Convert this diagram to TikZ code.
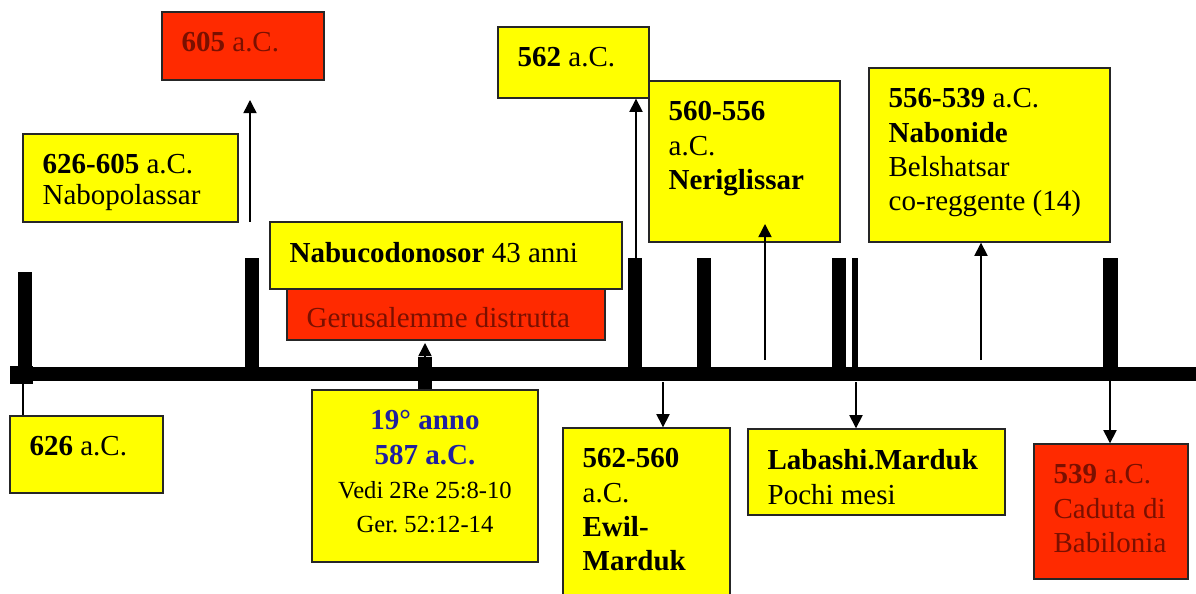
\documentclass[tikz,border=0pt]{standalone}
\usepackage{fontspec}
\setmainfont{Liberation Serif}
\usetikzlibrary{arrows.meta,positioning,fit,calc}
\definecolor{boxyellow}{HTML}{FFFF00}
\definecolor{boxred}{HTML}{FF2A00}
\definecolor{redtxt}{HTML}{7A1000}
\definecolor{annoblue}{HTML}{2020A0}
\frenchspacing
\tikzset{
  ybox/.style={draw=black!85,line width=0.8pt,fill=boxyellow,inner sep=0pt},
  rbox/.style={ybox,fill=boxred},
  basetxt/.style={inner sep=0pt,yshift=-0.42cm,font=\fontsize{16.5}{19.5}\selectfont},
  txt/.style={basetxt,anchor=north west,align=left,xshift=0.4cm},
  ctxt/.style={basetxt,anchor=north,align=center},
  arr/.style={line width=0.85pt,-{Triangle[length=7.5pt,width=7.5pt]}},
}
\begin{document}
\begin{tikzpicture}[x=0.02cm,y=-0.02cm]
  \useasboundingbox (0,0) rectangle (1196,594);
  \clip (0,0) rectangle (1196,594);
  % timeline and ticks
  \fill (10,367) rectangle (1196,381);
  \fill (10,366) rectangle (33,384);
  \foreach \xa/\xb/\yt in {18/32/272,245/259/258,628/642/258,697/711/258,832/846/258,852/858/258,1103/1118/258}
    \fill (\xa,\yt) rectangle (\xb,374);
  \fill (418,357) rectangle (432,392);
  % boxes above
  \node[rbox,fit={(162,12) (324,80)}] (n605) {};
  \node[ybox,fit={(23,134) (238,222)}] (n626605) {};
  \node[ybox,fit={(270,222) (622,289)}] (nNabu) {};
  \node[rbox,fit={(287,289) (605,340)}] (nGer) {};
  \node[ybox,fit={(498,27) (649,98)}] (n562) {};
  \node[ybox,fit={(649,81) (840,242)}] (nNer) {};
  \node[ybox,fit={(869,68) (1110,242)}] (nNabo) {};
  % boxes below
  \node[ybox,fit={(10,416) (163,493)}] (n626) {};
  \node[ybox,fit={(312,390) (538,562)}] (n19) {};
  \node[ybox,fit={(563,428) (730,610)}] (nEwil) {};
  \node[ybox,fit={(748,429) (1005,515)}] (nLab) {};
  \node[rbox,fit={(1034,444) (1188,579)}] (n539) {};
  % texts
  \node[txt,text=redtxt] at (n605.north west) {\textbf{605} a.C.};
  \node[txt,font=\fontsize{16.5}{17.5}\selectfont] at (n626605.north west) {\textbf{626-605} a.C.\\Nabopolassar};
  \node[txt] at (nNabu.north west) {\textbf{Nabucodonosor} 43 anni};
  \node[txt,text=redtxt,yshift=0.04cm] at (nGer.north west) {Gerusalemme distrutta};
  \node[txt] at (n562.north west) {\textbf{562} a.C.};
  \node[txt] at (nNer.north west) {\textbf{560-556}\\a.C.\\\textbf{Neriglissar}};
  \node[txt] at (nNabo.north west) {\textbf{556-539} a.C.\\\textbf{Nabonide}\\Belshatsar\\co-reggente (14)};
  \node[txt] at (n626.north west) {\textbf{626} a.C.};
  \node[ctxt] at (n19.north)
    {\textcolor{annoblue}{\textbf{19° anno}}\\\textcolor{annoblue}{\textbf{587 a.C.}}\\
     {\fontsize{14}{16}\selectfont Vedi 2Re 25:8-10}\\{\fontsize{14}{16}\selectfont Ger. 52:12-14}};
  \node[txt] at (nEwil.north west) {\textbf{562-560}\\a.C.\\\textbf{Ewil-}\\\textbf{Marduk}};
  \node[txt] at (nLab.north west) {\textbf{Labashi.Marduk}\\Pochi mesi};
  \node[txt,text=redtxt] at (n539.north west) {\textbf{539} a.C.\\Caduta di\\Babilonia};
  % connectors
  \coordinate (s605) at (250,222);
  \coordinate (e605) at (250,100);
  \draw[arr] (s605) -- (e605);
  \coordinate (s562) at (636,258);
  \draw[arr] (s562) -- (s562 |- n562.south);
  \coordinate (sNer) at (765,360);
  \coordinate (eNer) at (765,224);
  \draw[arr] (sNer) -- (eNer);
  \coordinate (sNabo) at (981,360);
  \draw[arr] (sNabo) -- (sNabo |- nNabo.south);
  \coordinate (e19) at (425,343);
  \draw[arr] (n19.north) -- (e19);
  \coordinate (s626) at (23,384);
  \draw[line width=0.85pt] (s626) -- (s626 |- n626.north);
  \coordinate (sEwil) at (663,382);
  \draw[arr] (sEwil) -- (sEwil |- nEwil.north);
  \coordinate (sLab) at (856,382);
  \draw[arr] (sLab) -- (sLab |- nLab.north);
  \coordinate (s539) at (1110,380);
  \draw[arr] (s539) -- (s539 |- n539.north);
\end{tikzpicture}
\end{document}
